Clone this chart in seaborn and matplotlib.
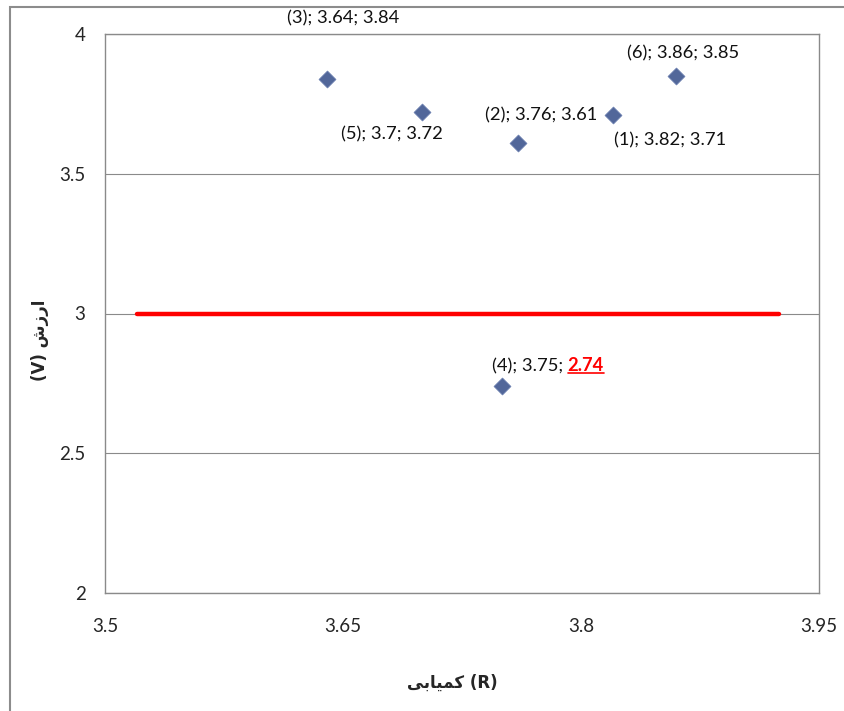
import matplotlib
matplotlib.use("Agg")
import matplotlib.pyplot as plt
import seaborn as sns
from matplotlib.lines import Line2D
from matplotlib.patches import Rectangle

# data
point_ids = [1, 2, 3, 4, 5, 6]
rarity = [3.82, 3.76, 3.64, 3.75, 3.70, 3.86]
value = [3.71, 3.61, 3.84, 2.74, 3.72, 3.85]
threshold_x = [3.52, 3.925]
threshold_y = [3.0, 3.0]
x_ticks = [3.5, 3.65, 3.8, 3.95]
y_ticks = [2, 2.5, 3, 3.5, 4]

# persian titles, pre-shaped (presentation forms in visual order)
x_title = "\uFBFD\uFE91\uFE8E\uFBFF\uFEE4\uFB90 (R)"
y_title = "(V) \uFEB5\uFEAF\uFEAD\uFE8D"

# label offsets in pixels (dx, dy), placed by hand like in the original
label_offsets = {1: (57, -25), 2: (24, 28), 3: (16, 60), 5: (-30, -22), 6: (7, 23)}

sns.set_style("white")
plt.rcParams['font.family'] = ['Lato', 'DejaVu Sans']

W, H = 845, 711
fs_tick = 13.5
fs_lab = 13.2
fig = plt.figure(figsize=(W / 100, H / 100), dpi=100)
ax = fig.add_axes([105 / W, 1 - 593 / H, (819 - 105) / W, (593 - 34) / H])

grey = '#8a8a8a'
ax.set_axisbelow(True)
ax.yaxis.grid(True, color=grey, lw=0.8)
ax.xaxis.grid(False)

sns.lineplot(x=threshold_x, y=threshold_y, color='#ff0000', lw=3.2, ax=ax, zorder=2)
sns.scatterplot(x=rarity, y=value, marker='D', s=75, color='#52679a',
                edgecolor='#6a7fb0', linewidth=0.5, ax=ax, zorder=3)

ax.set_xlim(3.5, 3.95)
ax.set_ylim(2, 4)
ax.set_xticks(x_ticks)
ax.set_xticklabels([f"{t:g}" for t in x_ticks])
ax.set_yticks(y_ticks)
ax.set_yticklabels([f"{t:g}" for t in y_ticks])
ax.tick_params(axis='x', length=0, pad=18, labelsize=fs_tick)
ax.tick_params(axis='y', length=0, pad=14, labelsize=fs_tick)
for sp in ax.spines.values():
    sp.set_color(grey)
    sp.set_linewidth(1.0)

for pid, r, v in zip(point_ids, rarity, value):
    if pid == 4:
        continue
    dx, dy = label_offsets[pid]
    ax.annotate(f"({pid}); {r:g}; {v:g}", (r, v), xytext=(dx, dy),
                textcoords='offset pixels', ha='center', va='center',
                fontsize=fs_lab, color='#111111')

# point 4 with the red underlined value
i4 = point_ids.index(4)
t1 = ax.annotate(f"({point_ids[i4]}); {rarity[i4]:g}; ", (rarity[i4], value[i4]),
                 xytext=(-10, 20), textcoords='offset pixels', ha='left', va='center',
                 fontsize=fs_lab, color='#111111')
t2 = ax.annotate(f"{value[i4]:g}", xy=(1, 0), xycoords=t1, ha='left', va='bottom',
                 fontsize=fs_lab, color='#ff0000', fontweight='bold')

fig.text(452 / W, 1 - 683 / H, x_title, ha='center', va='center',
         fontsize=12, fontweight='bold', family='DejaVu Sans')
fig.text(40 / W, 1 - 340 / H, y_title, ha='center', va='center', rotation=90,
         fontsize=12, fontweight='bold', family='DejaVu Sans')

# outer chart frame (only left and top edges visible)
fig.add_artist(Rectangle((10 / W, -0.1), 1.0, 1.1 - 7 / H, transform=fig.transFigure,
                         fill=False, edgecolor='#8c8c8c', lw=1.5))

fig.canvas.draw()
bb = t2.get_window_extent(fig.canvas.get_renderer())
yline = bb.y0 + 1
fig.add_artist(Line2D([bb.x0 / W, bb.x1 / W], [yline / H, yline / H],
                      transform=fig.transFigure, color='#ff0000', lw=1.2))

fig.savefig("out.png", dpi=100)
